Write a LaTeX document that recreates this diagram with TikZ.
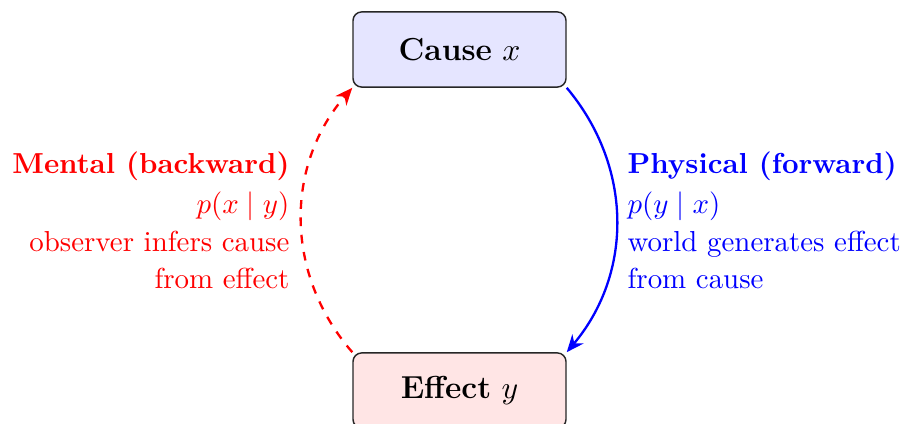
\documentclass[tikz,border=0pt]{standalone}
\usetikzlibrary{arrows.meta}
\begin{document}
\begin{tikzpicture}[x=0.346pt, y=0.346pt,
  box/.style={draw=black!85, line width=0.5pt, rounded corners=3pt,
    minimum width=73.7pt, minimum height=26pt, inner sep=0pt,
    font=\fontsize{11pt}{13pt}\selectfont},
  causebox/.style={box, fill=blue!10},
  effectbox/.style={box, fill=red!10},
  fwd/.style={blue, line width=0.8pt, -{Stealth[length=6pt, width=5pt]}},
  bwd/.style={red, line width=0.8pt, dashed, -{Stealth[length=6pt, width=5pt]}},
  lbl/.style={inner sep=0pt}
]
\useasboundingbox (0,0) rectangle (903,424);
\node[causebox] (cause) at (459.5,374.5) {\textbf{Cause} $x$};
\node[effectbox] (effect) at (459.5,33.5) {\textbf{Effect} $y$};
\draw[fwd] (cause.south east) to[bend left=40] (effect.north east);
\draw[bwd] (effect.north west) to[bend left=41] (cause.south west);
\node[lbl, blue, anchor=north west, align=left] (flabel) at (627,273)
  {\textbf{Physical (forward)}\\[2pt] $p(y\mid x)$\\[1pt] world generates effect\\[1pt] from cause};
\node[lbl, red, anchor=north east, align=right] (blabel) at (290,273)
  {\textbf{Mental (backward)}\\[2pt] $p(x\mid y)$\\[1pt] observer infers cause\\[1pt] from effect};
\end{tikzpicture}
\end{document}
